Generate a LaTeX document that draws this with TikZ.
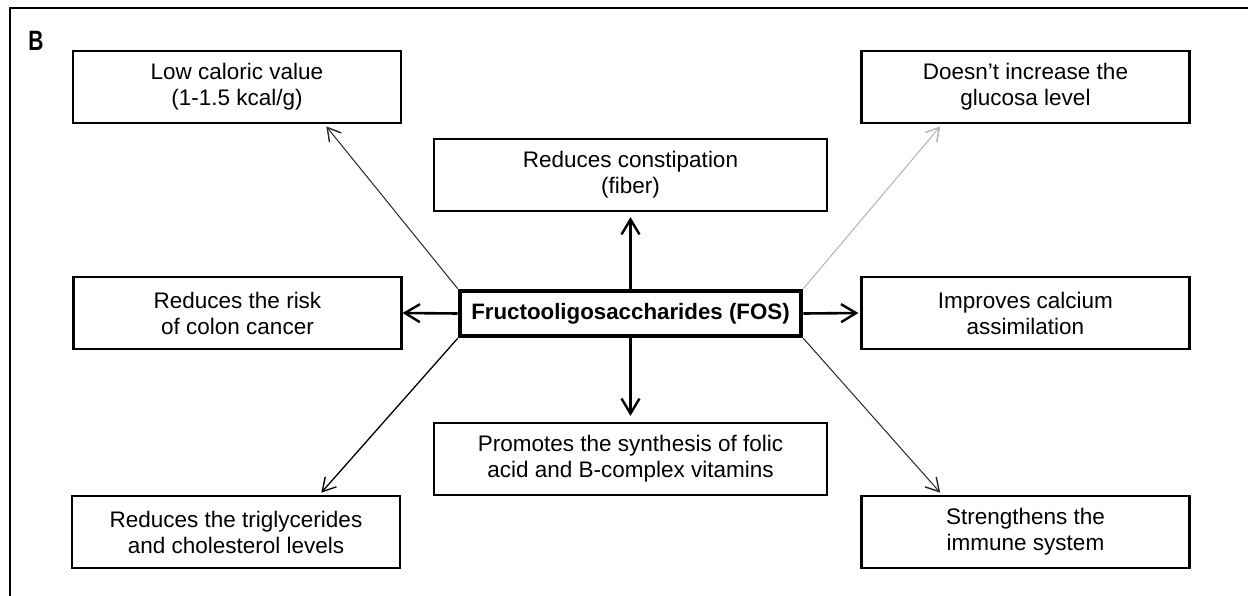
\documentclass[tikz,border=0pt]{standalone}
\usepackage{fontspec}
\setmainfont{Liberation Sans}
\usepackage{tikz}
\usetikzlibrary{arrows.meta,positioning}

\begin{document}
\begin{tikzpicture}[x=1pt,y=-1pt]
			\tikzstyle{Effect} 	= [rectangle, draw, line width=2.2pt, align=center, inner sep=0pt, minimum width=328pt, minimum height=72pt, font=\fontsize{22.5}{26}\selectfont]
			\tikzstyle{Wide}	= [minimum width=393pt]
			\tikzstyle{Main}	= [rectangle, draw, line width=4.6pt, inner sep=0pt, minimum width=341pt, minimum height=45pt, font=\bfseries\fontsize{22.3}{26}\selectfont]
			\tikzstyle{Bold}	= [line width=2.6pt, -{Straight Barb[length=15pt,width=18pt,line width=2.4pt]}]
			\tikzstyle{Thin}	= [line width=1pt, -{Straight Barb[length=13pt,width=15pt,line width=1.4pt]}, shorten >=3pt]
			
			\useasboundingbox (0,0) rectangle (1248,596);
			\draw [line width=2.7pt] (10,610) -- (10,8) -- (1260,8);
			\node (lbl) at (36,41) [font=\bfseries\fontsize{28}{28}\selectfont, xscale=0.75] {B};
			
			\node (fos) at (630.5,313.5) [Main] {Fructooligosaccharides (FOS)};
			
			\node (low) at (237,87) [Effect] {Low caloric value\\(1-1.5 kcal/g)};
			\node (glucose) at (1025.5,87) [Effect] {Doesn’t increase the\\glucosa level};
			\node (constip) at (630.5,175) [Effect][Wide] {Reduces constipation\\(fiber)};
			\node (colon) at (237.5,313) [Effect] {Reduces the risk\\of colon cancer};
			\node (calcium) at (1025.5,313) [Effect] {Improves calcium\\assimilation};
			\node (folic) at (630.5,459) [Effect][Wide] {Promotes the synthesis of folic\\acid and B-complex vitamins};
			\node (trigly) at (236,532) [Effect] {Reduces the triglycerides\\and cholesterol levels};
			\node (immune) at (1025.5,532) [Effect] {Strengthens the\\immune system};
			
			\draw (fos.north) to (constip.south) [Bold, shorten >=5pt];
			\draw (fos.south) to (folic.north) [Bold, shorten >=6pt];
			\draw (fos.west) to (colon.east) [Bold];
			\draw (fos.east) to (calcium.west) [Bold, shorten >=2pt];
			
			\draw (fos.north west) to (low.-23) [Thin, black!85];
			\draw (fos.north east) to (glucose.-156) [Thin, black!30];
			\draw (fos.south west) to (trigly.24) [Thin, line width=1.3pt];
			\draw (fos.south east) to (immune.156) [Thin, black!85];
		\end{tikzpicture}
\end{document}
